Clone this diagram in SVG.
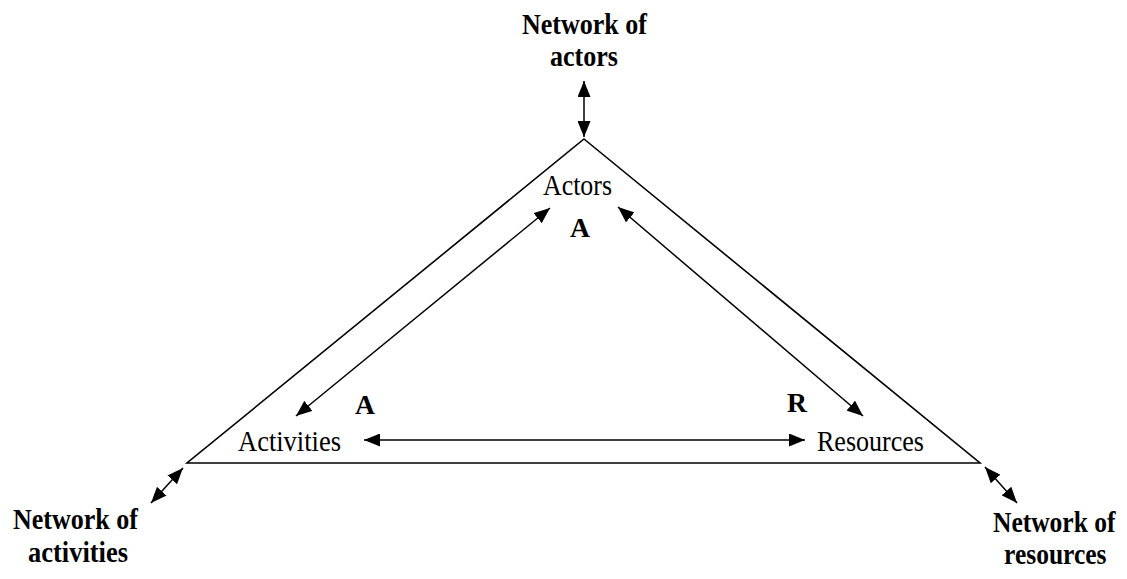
<svg xmlns="http://www.w3.org/2000/svg" width="1127" height="579" viewBox="0 0 1127 579">
  <style>
    .edge { stroke: #000; stroke-width: 1.5; fill: none; }
    .tri { stroke: #000; stroke-width: 1.6; fill: none; stroke-linejoin: miter; }
    .lbl { font-family: "Liberation Serif", "Times New Roman", serif; font-size: 30px; fill: #000; }
    .net { font-family: "Liberation Serif", "Times New Roman", serif; font-size: 30px; font-weight: bold; fill: #000; }
    .tag { font-family: "Liberation Serif", "Times New Roman", serif; font-size: 28px; font-weight: bold; fill: #000; }
  </style>
  <defs>
    <marker id="head" viewBox="0 0 16 13" refX="16" refY="6.5" markerWidth="16" markerHeight="13" markerUnits="userSpaceOnUse" orient="auto-start-reverse">
      <path d="M0,0 L16,6.5 L0,13 Z" fill="#000"/>
    </marker>
  </defs>

  <rect width="1127" height="579" fill="#fff"/>

  <!-- central triangle -->
  <g id="triangle">
    <path class="tri" d="M584,139 L980,463 L187,463 Z"/>
  </g>

  <g id="actors">
    <text class="lbl" x="543" y="195" textLength="69" lengthAdjust="spacingAndGlyphs">Actors</text>
    <text class="tag" x="570" y="237" textLength="20" lengthAdjust="spacingAndGlyphs">A</text>
  </g>
  <g id="activities">
    <text class="lbl" x="238" y="451" textLength="103" lengthAdjust="spacingAndGlyphs">Activities</text>
    <text class="tag" x="355" y="414" textLength="20" lengthAdjust="spacingAndGlyphs">A</text>
  </g>
  <g id="resources">
    <text class="lbl" x="817" y="451" textLength="107" lengthAdjust="spacingAndGlyphs">Resources</text>
    <text class="tag" x="787" y="412" textLength="20" lengthAdjust="spacingAndGlyphs">R</text>
  </g>

  <g id="network-actors">
    <text class="net" x="522" y="34" textLength="125" lengthAdjust="spacingAndGlyphs">Network of</text>
    <text class="net" x="550" y="66" textLength="68" lengthAdjust="spacingAndGlyphs">actors</text>
  </g>
  <g id="network-activities">
    <text class="net" x="13" y="529" textLength="125" lengthAdjust="spacingAndGlyphs">Network of</text>
    <text class="net" x="28" y="562" textLength="100" lengthAdjust="spacingAndGlyphs">activities</text>
  </g>
  <!-- condensed horizontally so the label stays inside the right edge -->
  <g id="network-resources" transform="translate(993,0) scale(0.85,1)">
    <text class="net" x="0" y="532">Network of</text>
    <text class="net" x="13" y="564">resources</text>
  </g>

  <!-- connectors -->
  <g id="connectors">
    <line class="edge" x1="584" y1="81" x2="584" y2="137" marker-start="url(#head)" marker-end="url(#head)"/>
    <line class="edge" x1="550" y1="208" x2="296" y2="416" marker-start="url(#head)" marker-end="url(#head)"/>
    <line class="edge" x1="618" y1="207" x2="863" y2="416" marker-start="url(#head)" marker-end="url(#head)"/>
    <line class="edge" x1="364" y1="440" x2="805" y2="440" marker-start="url(#head)" marker-end="url(#head)"/>
    <line class="edge" x1="183" y1="468" x2="151" y2="503" marker-start="url(#head)" marker-end="url(#head)"/>
    <line class="edge" x1="985" y1="467" x2="1017" y2="503" marker-start="url(#head)" marker-end="url(#head)"/>
  </g>
</svg>
